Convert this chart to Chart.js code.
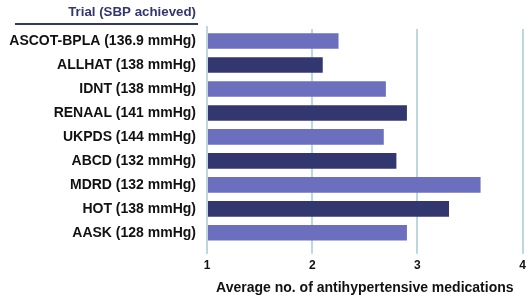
<!DOCTYPE html>
<html>
<head>
<meta charset="utf-8">
<script src="https://cdn.jsdelivr.net/npm/chart.js@4"></script>
<style>
  html, body { margin: 0; padding: 0; background: #fff; }
  #wrap { width: 531px; height: 300px; position: relative; }
</style>
</head>
<body>
<div id="wrap"><canvas id="chart"></canvas></div>
<script>
const trials = ['ASCOT-BPLA (136.9 mmHg)', 'ALLHAT (138 mmHg)', 'IDNT (138 mmHg)', 'RENAAL (141 mmHg)',
    'UKPDS (144 mmHg)', 'ABCD (132 mmHg)', 'MDRD (132 mmHg)', 'HOT (138 mmHg)', 'AASK (128 mmHg)'];
const avgMeds = [2.25, 2.1, 2.7, 2.9, 2.68, 2.8, 3.6, 3.3, 2.9];
const headerText = 'Trial (SBP achieved)';
const xTitle = 'Average no. of antihypertensive medications';

const lightBar = '#6b6fbe';
const darkBar = '#33376f';
const gridColor = '#bcd7dd';
const barColors = trials.map((t, i) => i % 2 === 0 ? lightBar : darkBar);
const fontFamily = '"Liberation Sans", Arial, sans-serif';

// header above the labels, with its rule
const headerPlugin = {
    id: 'header',
    afterDraw(chart) {
        const ctx = chart.ctx;
        ctx.save();
        ctx.fillStyle = '#33376f';
        ctx.font = 'bold 13.3px ' + fontFamily;
        ctx.textAlign = 'right';
        ctx.textBaseline = 'middle';
        ctx.fillText(headerText, 196, 12);
        ctx.strokeStyle = '#33376f';
        ctx.lineWidth = 2;
        ctx.beginPath();
        ctx.moveTo(15, 24);
        ctx.lineTo(198, 24);
        ctx.stroke();
        ctx.restore();
    }
};

// the grid line at the axis minimum sits on top of the bar starts
const baseLinePlugin = {
    id: 'baseLine',
    afterDatasetsDraw(chart) {
        const x = chart.scales.x.getPixelForValue(1);
        const area = chart.chartArea;
        const ctx = chart.ctx;
        ctx.save();
        ctx.strokeStyle = gridColor;
        ctx.lineWidth = 2;
        ctx.beginPath();
        ctx.moveTo(x, area.top - 3);
        ctx.lineTo(x, area.bottom + 9);
        ctx.stroke();
        ctx.restore();
    }
};

const ctx = document.getElementById('chart').getContext('2d');
new Chart(ctx, {
    type: 'bar',
    data: {
        labels: trials,
        datasets: [{
            data: avgMeds,
            backgroundColor: barColors,
            borderWidth: 0,
            barPercentage: 0.65,
            categoryPercentage: 1.0
        }]
    },
    options: {
        indexAxis: 'y',
        responsive: true,
        maintainAspectRatio: false,
        animation: false,
        layout: { padding: { top: 29, right: 8, bottom: 3, left: 0 } },
        plugins: {
            legend: { display: false },
            tooltip: { enabled: false }
        },
        scales: {
            x: {
                min: 1,
                max: 4,
                ticks: {
                    stepSize: 1,
                    color: '#111',
                    font: { family: fontFamily, size: 12, weight: 'bold' },
                    padding: 5
                },
                grid: {
                    color: gridColor,
                    lineWidth: 2,
                    tickLength: 9,
                    drawTicks: true
                },
                border: { display: false },
                title: {
                    display: true,
                    text: xTitle,
                    color: '#111',
                    font: { family: fontFamily, size: 14, weight: 'bold' },
                    padding: { top: 2, bottom: 0 }
                }
            },
            y: {
                afterFit(scale) { scale.width = 207; },
                ticks: {
                    color: '#111',
                    font: { family: fontFamily, size: 14, weight: 'bold' },
                    padding: 11
                },
                grid: { display: false, drawTicks: false },
                border: { display: false }
            }
        }
    },
    plugins: [headerPlugin, baseLinePlugin]
});
</script>
</body>
</html>
